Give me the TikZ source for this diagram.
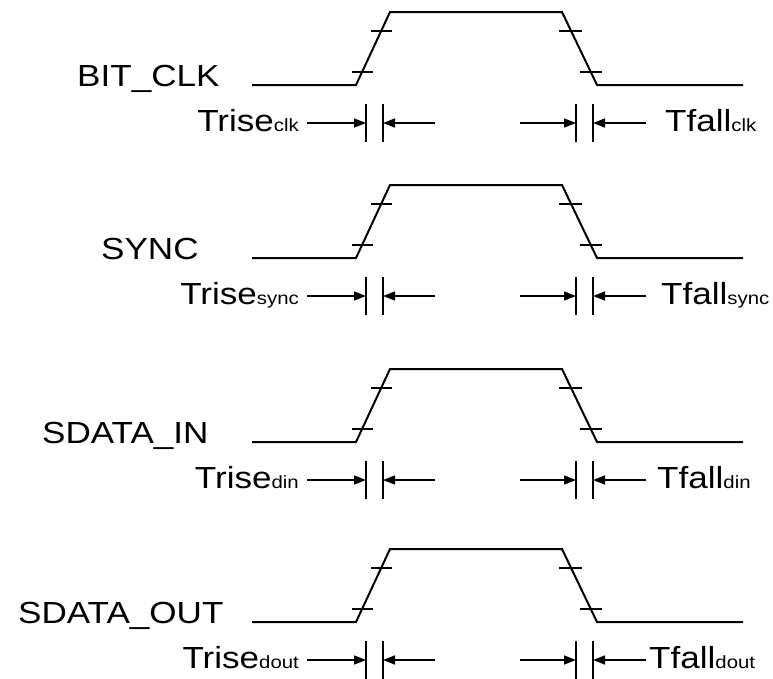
\documentclass[tikz,border=0pt]{standalone}
\usepackage{fontspec}
\setmainfont{Liberation Sans}
\newfontfamily\labfont[FakeStretch=1.15]{Liberation Sans}
\usetikzlibrary{arrows.meta}
\newcommand{\mainsz}{\fontsize{30.5}{34}\selectfont}
\newcommand{\subsz}{\fontsize{17.7}{20}\selectfont}
\begin{document}
\begin{tikzpicture}[x=1pt,y=-1pt,
  wave/.style={line width=2pt, line join=miter},
  tickmark/.style={line width=1.5pt},
  dimbar/.style={line width=1.5pt},
  dimarrow/.style={line width=1.5pt, -{Triangle[length=12pt,width=9pt]}},
  siglabel/.style={inner sep=0pt, anchor=base west, font=\labfont\mainsz},
  riselabel/.style={inner sep=0pt, anchor=base east, font=\labfont\mainsz},
  falllabel/.style={inner sep=0pt, anchor=base west, font=\labfont\mainsz}]
\useasboundingbox (0,0) rectangle (773,678);
\foreach \t/\nm/\nx/\sb/\fx [count=\i] in {12/BIT\_CLK/77/clk/665, 185/SYNC/101/sync/661, 369/SDATA\_IN/42/din/657, 549/SDATA\_OUT/18/dout/649} {
  \pgfmathsetmacro{\lo}{\t+73}
  \pgfmathsetmacro{\ar}{\t+111}
  \pgfmathsetmacro{\tu}{\t+19}
  \pgfmathsetmacro{\tl}{\t+60}
  \pgfmathsetmacro{\bt}{\ar-19}
  \pgfmathsetmacro{\bb}{\ar+19}
  \pgfmathsetmacro{\bl}{\ar+8}
  % waveform
  \coordinate (w\i a) at (252,\lo);
  \coordinate (w\i b) at (356,\lo);
  \coordinate (w\i c) at (390,\t);
  \coordinate (w\i d) at (562,\t);
  \coordinate (w\i e) at (597,\lo);
  \coordinate (w\i f) at (743,\lo);
  \draw[wave] (w\i a) -- (w\i b) -- (w\i c) -- (w\i d) -- (w\i e) -- (w\i f);
  % threshold ticks
  \draw[tickmark] (371,\tu) -- (392,\tu);
  \draw[tickmark] (352,\tl) -- (373,\tl);
  \draw[tickmark] (559,\tu) -- (582,\tu);
  \draw[tickmark] (580,\tl) -- (602,\tl);
  % dimension bars
  \draw[dimbar] (366,\bt) -- (366,\bb);
  \draw[dimbar] (383,\bt) -- (383,\bb);
  \draw[dimbar] (576,\bt) -- (576,\bb);
  \draw[dimbar] (593,\bt) -- (593,\bb);
  % arrows
  \coordinate (ra\i) at (307,\ar);
  \coordinate (rb\i) at (366,\ar);
  \coordinate (rc\i) at (435,\ar);
  \coordinate (rd\i) at (383,\ar);
  \coordinate (fa\i) at (520,\ar);
  \coordinate (fb\i) at (576,\ar);
  \coordinate (fc\i) at (646,\ar);
  \coordinate (fd\i) at (593,\ar);
  \draw[dimarrow] (ra\i) -- (rb\i);
  \draw[dimarrow] (rc\i) -- (rd\i);
  \draw[dimarrow] (fa\i) -- (fb\i);
  \draw[dimarrow] (fc\i) -- (fd\i);
  % labels
  \node[siglabel] (sig\i) at (\nx,\lo+1) {\nm};
  \node[riselabel] (rise\i) at (299,\bl) {Trise{\subsz\sb}};
  \node[falllabel] (fall\i) at (\fx,\bl) {Tfall{\subsz\sb}};
}
\end{tikzpicture}
\end{document}
